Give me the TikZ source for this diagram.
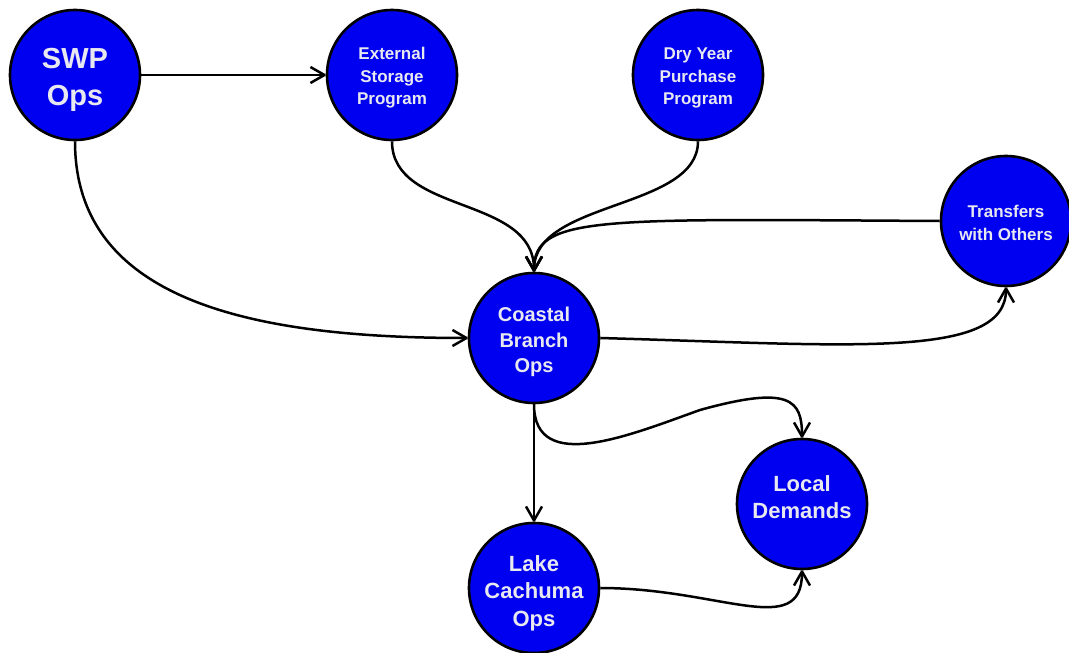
\documentclass[tikz,border=0pt]{standalone}
\usepackage{fontspec}
\setmainfont{Liberation Sans}
\usetikzlibrary{arrows.meta}
\definecolor{nodeblue}{RGB}{0,0,240}
\definecolor{txtgray}{RGB}{232,232,240}
\begin{document}
\begin{tikzpicture}[x=1pt,y=-1pt,
  proc/.style={circle, draw=black, line width=2.6pt, fill=nodeblue,
    minimum size=130pt, inner sep=0pt},
  lbl/.style={text=txtgray, align=center, inner sep=0pt},
  fA/.style={font={\fontsize{29pt}{37pt}\selectfont\bfseries}},
  fB/.style={font={\fontsize{17pt}{22.5pt}\selectfont\bfseries}},
  fC/.style={font={\fontsize{20pt}{25.5pt}\selectfont\bfseries}},
  fD/.style={font={\fontsize{22pt}{27.5pt}\selectfont\bfseries}},
  flow/.style={line width=2.5pt, line join=round,
    -{Straight Barb[length=14pt,width=16pt,line join=round]}},
]
\useasboundingbox (0,0) rectangle (1069,653);
\node[proc, label={[name=swpt, lbl, fA, yshift=-5pt]center:SWP\\Ops}] (swp) at (75,75) {};
\node[proc, label={[name=est, lbl, fB, yshift=-3pt]center:External\\Storage\\Program}] (es) at (392,75) {};
\node[proc, label={[name=dyt, lbl, fB, yshift=-3pt]center:Dry Year\\Purchase\\Program}] (dy) at (698,75) {};
\node[proc, label={[name=trt, lbl, fB, yshift=-2pt]center:Transfers\\with Others}] (tr) at (1006,221) {};
\node[proc, label={[name=cbt, lbl, fC, yshift=-4pt]center:Coastal\\Branch\\Ops}] (cb) at (534,338) {};
\node[proc, label={[name=lct, lbl, fD, yshift=-5pt]center:Lake\\Cachuma\\Ops}] (lc) at (534,588) {};
\node[proc, label={[name=ldt, lbl, fD, yshift=7pt]center:Local\\Demands}] (ld) at (802,504) {};

\draw[flow] (swp) -- (es);
\draw[flow] (swp.south) .. controls (75,300) and (250,338) .. (cb.west);
\draw[flow] (es.south) .. controls (392,215) and (534,195) .. (cb.north);
\draw[flow] (dy.south) .. controls (698,210) and (534,200) .. (cb.north);
\draw[flow] (tr.west) .. controls (600,219) and (534,215) .. (cb.north);
\draw[flow] (cb.east) .. controls (850,345) and (1006,360) .. (tr.south);
\draw[flow] (cb.south) .. controls (534,475) and (630,435) .. (700,410)
   .. controls (790,385) and (802,400) .. (ld.north);
\draw[flow] (cb) -- (lc);
\draw[flow] (lc.east) .. controls (720,588) and (802,640) .. (ld.south);
\end{tikzpicture}
\end{document}
